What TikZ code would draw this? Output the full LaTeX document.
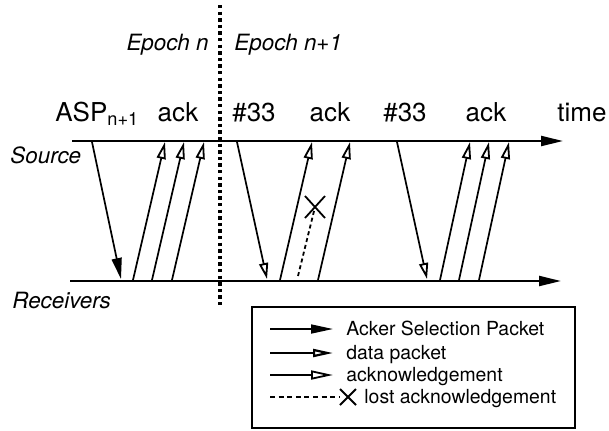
\documentclass[tikz,border=0pt]{standalone}
\usepackage{fontspec}
\setmainfont{TeX Gyre Heros}
\usetikzlibrary{arrows.meta}
\begin{document}
\begin{tikzpicture}[x=0.5pt,y=-0.5pt,
  timeline/.style={line width=1.1pt},
  aspmsg/.style={line width=0.85pt,-{Triangle[length=10.5pt,width=5pt]}},
  datamsg/.style={line width=0.85pt,-{Triangle[open,length=8pt,width=4.5pt,fill=white,line width=0.9pt]}},
  ackmsg/.style={line width=0.85pt,-{Triangle[open,length=8.5pt,width=4.5pt,fill=white,line width=0.9pt]}},
  lostmsg/.style={line width=0.9pt,dash pattern=on 2pt off 1.5pt},
  lbl/.style={font=\fontsize{13}{15}\selectfont, anchor=base, inner sep=0},
  side/.style={font=\fontsize{11.2}{13}\selectfont\itshape, inner sep=0},
  leg/.style={font=\fontsize{9.7}{11}\selectfont, anchor=base west, inner sep=0}]

\useasboundingbox (0,0) rectangle (609,430);

% epoch boundary
\coordinate (e0) at (220,5);
\coordinate (e1) at (220,307);
\draw[line width=1.8pt, dash pattern=on 1.7pt off 1.6pt] (e0) -- (e1);
\node[side, anchor=base east] (epn) at (209,50) {Epoch n};
\node[side, anchor=base west] (epn1) at (234,50) {Epoch n+1};

% time lines
\coordinate (s0) at (72,141);
\coordinate (s1) at (563,141);
\coordinate (r0) at (70,281);
\coordinate (r1) at (561,281);
\draw[timeline,-{Triangle[length=11pt,width=5pt]}] (s0) -- (s1);
\draw[timeline,-{Triangle[length=11pt,width=5pt]}] (r0) -- (r1);
\node[side, anchor=base west] (src) at (10,163) {Source};
\node[side, anchor=base west] (rcv) at (12,308) {Receivers};

% labels above the source line
\node[lbl, anchor=base west] (asp) at (55,121) {ASP\textsubscript{n+1}};
\node[lbl] (ack1) at (178,121) {ack};
\node[lbl] (d1) at (254,121) {\#33};
\node[lbl] (ack2) at (330,121) {ack};
\node[lbl] (d2) at (405,121) {\#33};
\node[lbl] (ack3) at (486,121) {ack};
\node[lbl] (time) at (582,121) {time};

% acker selection packet
\coordinate (a0) at (92,142);
\coordinate (a1) at (121,279);
\draw[aspmsg] (a0) -- (a1);

% acknowledgements, epoch n
\coordinate (k1b) at (133,280); \coordinate (k1t) at (165,142);
\coordinate (k2b) at (152,280); \coordinate (k2t) at (184,142);
\coordinate (k3b) at (172,280); \coordinate (k3t) at (204,142);
\draw[ackmsg] (k1b) -- (k1t);
\draw[ackmsg] (k2b) -- (k2t);
\draw[ackmsg] (k3b) -- (k3t);

% first data packet and its acknowledgements
\coordinate (p1t) at (237,142); \coordinate (p1b) at (267,279);
\draw[datamsg] (p1t) -- (p1b);
\coordinate (k4b) at (280,280); \coordinate (k4t) at (312,142);
\draw[ackmsg] (k4b) -- (k4t);
\coordinate (lb) at (298,276); \coordinate (lx) at (315,207);
\draw[lostmsg] (lb) -- (lx);
\draw[line width=0.9pt] (lx) ++(-10,-11) -- ++(20,22) (lx) ++(10,-11) -- ++(-20,22);
\coordinate (k5b) at (318,280); \coordinate (k5t) at (350,142);
\draw[ackmsg] (k5b) -- (k5t);

% retransmitted data packet and its acknowledgements
\coordinate (p2t) at (397,142); \coordinate (p2b) at (427,279);
\draw[datamsg] (p2t) -- (p2b);
\coordinate (k6b) at (440,280); \coordinate (k6t) at (470,142);
\coordinate (k7b) at (459,280); \coordinate (k7t) at (489,142);
\coordinate (k8b) at (479,280); \coordinate (k8t) at (509,142);
\draw[ackmsg] (k6b) -- (k6t);
\draw[ackmsg] (k7b) -- (k7t);
\draw[ackmsg] (k8b) -- (k8t);

% legend
\draw[line width=1.1pt] (252,307) rectangle (575,428);
\coordinate (g1a) at (270,329); \coordinate (g1b) at (333,329);
\coordinate (g2a) at (270,353); \coordinate (g2b) at (333,353);
\coordinate (g3a) at (270,375); \coordinate (g3b) at (333,375);
\coordinate (g4a) at (270,397); \coordinate (g4x) at (348,397);
\draw[aspmsg,-{Triangle[length=11pt,width=4.5pt]}] (g1a) -- (g1b);
\draw[datamsg,-{Triangle[open,length=10pt,width=4pt,fill=white,line width=1.1pt]}] (g2a) -- (g2b);
\draw[ackmsg,-{Triangle[open,length=11pt,width=4.5pt,fill=white,line width=0.9pt]}] (g3a) -- (g3b);
\draw[line width=0.9pt,dash pattern=on 2.5pt off 1.8pt] (g4a) -- ([xshift=-4pt]g4x);
\draw[line width=0.9pt] (g4x) ++(-8,-8) -- ++(16,16) (g4x) ++(8,-8) -- ++(-16,16);
\node[leg] (t1) at (346,335) {Acker Selection Packet};
\node[leg] (t2) at (346,359) {data packet};
\node[leg] (t3) at (346,381) {acknowledgement};
\node[leg] (t4) at (364,403) {lost acknowledgement};
\end{tikzpicture}
\end{document}
